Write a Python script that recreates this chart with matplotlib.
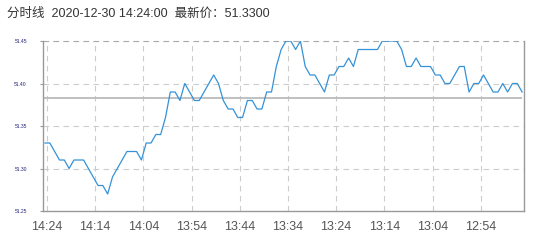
import matplotlib
matplotlib.use('Agg')
import matplotlib.pyplot as plt

# minute prices, newest (14:24) first, going back in time
prices = [51.33, 51.33, 51.32, 51.31, 51.31, 51.30, 51.31, 51.31, 51.31, 51.30,
          51.29, 51.28, 51.28, 51.27, 51.29, 51.30, 51.31, 51.32, 51.32, 51.32,
          51.31, 51.33, 51.33, 51.34, 51.34, 51.36, 51.39, 51.39, 51.38, 51.40,
          51.39, 51.38, 51.38, 51.39, 51.40, 51.41, 51.40, 51.38, 51.37, 51.37,
          51.36, 51.36, 51.38, 51.38, 51.37, 51.37, 51.39, 51.39, 51.42, 51.44,
          51.45, 51.45, 51.44, 51.45, 51.42, 51.41, 51.41, 51.40, 51.39, 51.41,
          51.41, 51.42, 51.42, 51.43, 51.42, 51.44, 51.44, 51.44, 51.44, 51.44,
          51.45, 51.45, 51.45, 51.45, 51.44, 51.42, 51.42, 51.43, 51.42, 51.42,
          51.42, 51.41, 51.41, 51.40, 51.40, 51.41, 51.42, 51.42, 51.39, 51.40,
          51.40, 51.41, 51.40, 51.39, 51.39, 51.40, 51.39, 51.40, 51.40, 51.39]
ref_price = 51.383
time_labels = ['14:24', '14:14', '14:04', '13:54', '13:44',
               '13:34', '13:24', '13:14', '13:04', '12:54']
y_ticks = [51.25, 51.30, 51.35, 51.40, 51.45]
title = '分时线  2020-12-30 14:24:00  最新价：51.3300'

plt.rcParams['font.family'] = ['Liberation Sans', 'Noto Sans CJK SC', 'DejaVu Sans']

fig = plt.figure(figsize=(5.36, 2.47), dpi=100)
ax = fig.add_axes([43 / 536, 36 / 247, 481 / 536, 170 / 247])

x = list(range(len(prices)))
ax.plot(x, prices, color='#3592d8', lw=0.9, zorder=3)
ax.hlines(ref_price, -0.5, len(prices) - 1, color='#bbbbbb', lw=1.3, zorder=2)

ax.set_xlim(-0.42, 99.4)
ax.set_ylim(51.25, 51.45)

xt = [i * 10 + 0.42 for i in range(len(time_labels))]
ax.set_xticks(xt)
ax.set_xticklabels(time_labels, fontsize=9, color='#555555')
ax.set_yticks(y_ticks)
ax.set_yticklabels(['%.2f' % v for v in y_ticks], fontsize=3.6, color='#22227a')
ax.tick_params(axis='x', length=0, pad=7)
ax.tick_params(axis='y', length=2.2, color='#999999', width=0.8, pad=9.4)

ax.grid(True, linestyle=(0, (5, 4)), color='#cccccc', lw=0.8)
for s in ['left', 'bottom', 'right']:
    ax.spines[s].set_color('#999999')
    ax.spines[s].set_linewidth(1.0)
ax.spines['top'].set_visible(False)
ax.axhline(51.45, color='#aaaaaa', lw=0.8, linestyle=(0, (5, 4)), clip_on=False)

fig.text(7 / 536, 1 - 14 / 247, title, fontsize=9, color='#333333', va='center')

fig.savefig('out.png', dpi=100)
